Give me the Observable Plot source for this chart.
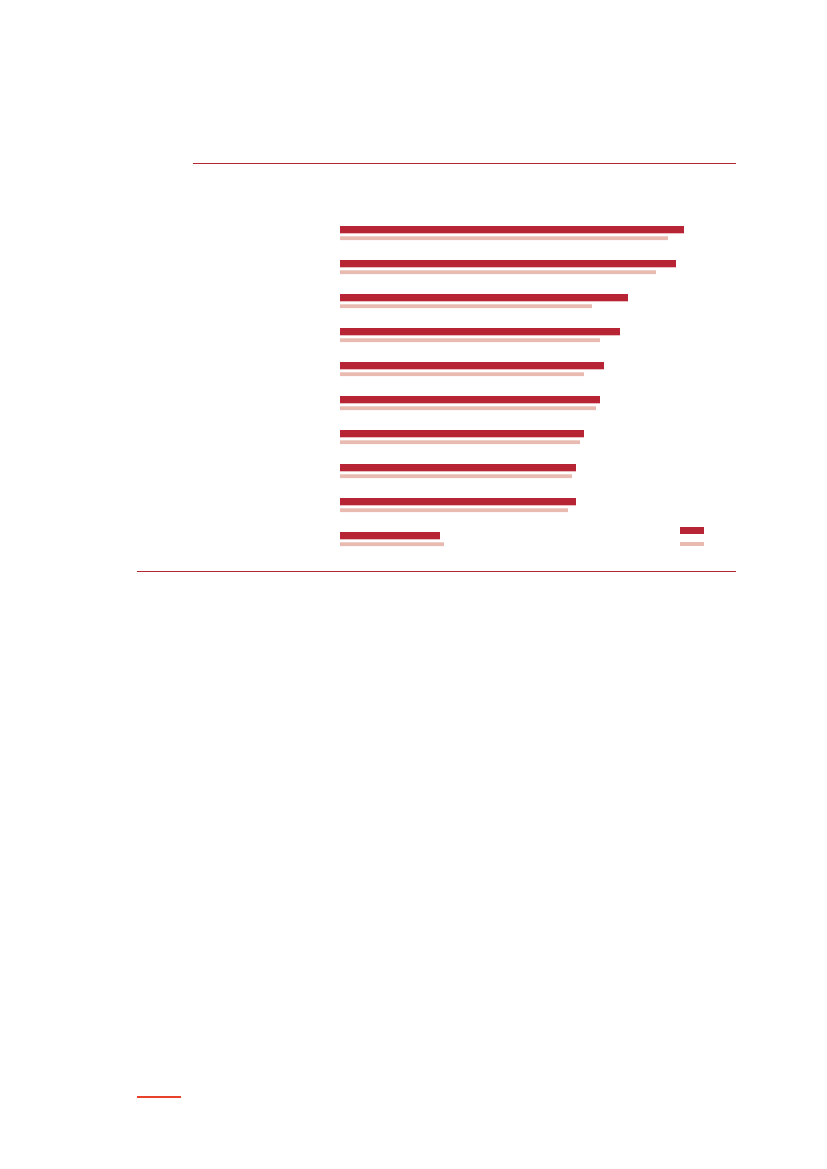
<!DOCTYPE html>
<html>
<head>
<meta charset="utf-8">
<script src="https://cdn.jsdelivr.net/npm/d3@7"></script>
<script src="https://cdn.jsdelivr.net/npm/@observablehq/plot@0.6"></script>
<style>
  html, body { margin: 0; padding: 0; background: #fff; }
  body { width: 827px; height: 1169px; position: relative; overflow: hidden; font-family: "Liberation Sans", Arial, sans-serif; }
  #chart { position: absolute; left: 0; top: 0; }
  .rule { position: absolute; height: 1px; background: #b72433; }
  .swatch { position: absolute; }
</style>
</head>
<body>
<div id="chart"></div>
<div class="rule" style="left:193px; top:163px; width:543px;"></div>
<div class="rule" style="left:137px; top:571px; width:599px;"></div>
<div class="rule" style="left:137px; top:1096px; width:44px; height:1.5px; background:#e8412c;"></div>
<div class="swatch" id="sw0" style="left:680px; top:527px; width:24px; height:7px;"></div>
<div class="swatch" id="sw1" style="left:680px; top:542px; width:24px; height:4px;"></div>
<script>
// Data (no labels are printed in the reference)
const categories = ["1", "2", "3", "4", "5", "6", "7", "8", "9", "10"];
const seriesNames = ["Series A", "Series B"];
const seriesA = [86, 84, 72, 70, 66, 65, 61, 59, 59, 25];
const seriesB = [82, 79, 63, 65, 61, 64, 60, 58, 57, 26];
const colors = ["#b72433", "#e9bab0"];

const rowsA = categories.map((c, i) => ({cat: c, value: seriesA[i]}));
const rowsB = categories.map((c, i) => ({cat: c, value: seriesB[i]}));

const W = 827, H = 600;
const band = 34.2;
const top0 = 217;
const chart = Plot.plot({
  width: W,
  height: H,
  marginLeft: 340,
  marginRight: 87,
  marginTop: top0,
  marginBottom: H - top0 - band * categories.length,
  x: {domain: [0, 100], axis: null},
  y: {domain: categories, axis: null, padding: 0},
  marks: [
    Plot.barX(rowsA, {x: "value", y: "cat", fill: colors[0], insetTop: 8, insetBottom: band - 8 - 7.5}),
    Plot.barX(rowsB, {x: "value", y: "cat", fill: colors[1], insetTop: 18.3, insetBottom: band - 18.3 - 4})
  ]
});
document.getElementById("chart").appendChild(chart);
document.getElementById("sw0").style.background = colors[0];
document.getElementById("sw1").style.background = colors[1];
</script>
</body>
</html>
